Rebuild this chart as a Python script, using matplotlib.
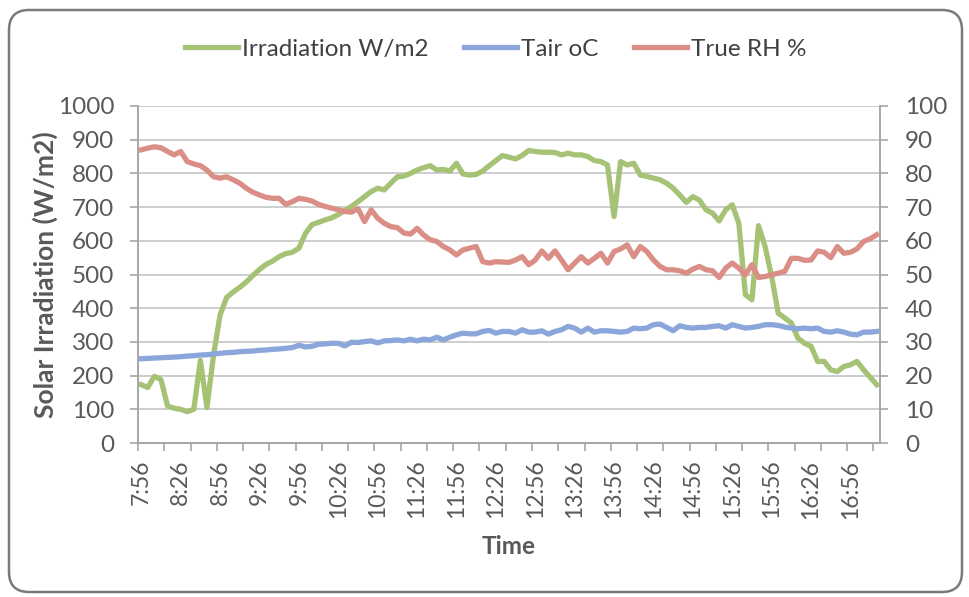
import matplotlib
matplotlib.use("Agg")
import matplotlib.pyplot as plt
import numpy as np
from matplotlib.patches import FancyBboxPatch

plt.rcParams['font.family'] = ['Lato', 'DejaVu Sans']

# readings every 5 minutes, 7:56 -> 17:16
irradiation = [
    173, 165, 198, 188, 110, 103, 100, 93, 100, 245,
    105, 260, 380, 432, 448, 462, 478, 497, 515, 530,
    540, 553, 562, 566, 578, 622, 648, 655, 662, 668,
    678, 690, 702, 716, 731, 746, 756, 751, 771, 790,
    792, 800, 810, 817, 823, 810, 812, 807, 830, 798,
    795, 797, 807, 823, 838, 853, 848, 843, 853, 868,
    865, 863, 863, 862, 855, 860, 855, 855, 850, 838,
    835, 825, 672, 835, 825, 830, 795, 791, 786, 781,
    771, 756, 736, 714, 731, 721, 692, 682, 659, 692,
    707, 652, 440, 425, 645, 583, 494, 385, 371, 356,
    311, 296, 287, 242, 242, 217, 212, 227, 232, 242,
    217, 195, 173,
]
tair = [
    25.0, 25.1, 25.2, 25.3, 25.4, 25.5, 25.6, 25.8, 25.9, 26.1,
    26.2, 26.4, 26.6, 26.8, 26.9, 27.1, 27.2, 27.3, 27.5, 27.6,
    27.8, 27.9, 28.1, 28.3, 29.0, 28.5, 28.7, 29.3, 29.4, 29.6,
    29.6, 28.8, 29.9, 29.8, 30.1, 30.3, 29.7, 30.3, 30.4, 30.6,
    30.3, 30.8, 30.3, 30.8, 30.6, 31.4, 30.6, 31.4, 32.1, 32.6,
    32.4, 32.4, 33.1, 33.4, 32.6, 33.1, 33.1, 32.6, 33.6, 32.9,
    32.9, 33.3, 32.3, 33.1, 33.6, 34.6, 34.1, 32.9, 34.1, 32.9,
    33.3, 33.3, 33.1, 32.9, 33.1, 34.1, 33.9, 34.1, 35.1, 35.3,
    34.3, 33.3, 34.8, 34.3, 34.1, 34.3, 34.3, 34.6, 34.8, 34.1,
    35.1, 34.6, 34.1, 34.3, 34.6, 35.1, 35.1, 34.9, 34.4, 34.1,
    33.9, 34.1, 33.9, 34.1, 33.1, 32.9, 33.3, 32.9, 32.3, 32.1,
    32.9, 32.9, 33.1,
]
rh = [
    87.0, 87.5, 87.9, 87.6, 86.5, 85.5, 86.5, 83.5, 82.8, 82.3,
    81.0, 79.0, 78.6, 79.0, 78.1, 77.1, 75.6, 74.4, 73.6, 72.9,
    72.6, 72.6, 70.8, 71.6, 72.6, 72.3, 71.8, 70.8, 70.2, 69.7,
    69.2, 68.7, 68.5, 69.5, 65.7, 69.2, 66.7, 65.2, 64.2, 63.9,
    62.3, 62.0, 63.7, 61.7, 60.3, 59.8, 58.3, 57.3, 55.8, 57.3,
    57.8, 58.3, 53.8, 53.4, 53.8, 53.7, 53.6, 54.3, 55.3, 52.9,
    54.3, 57.0, 54.8, 57.0, 54.3, 51.4, 53.4, 55.3, 53.4, 54.8,
    56.3, 53.4, 56.8, 57.6, 58.8, 55.3, 58.3, 56.8, 54.3, 52.4,
    51.4, 51.4, 51.1, 50.4, 51.6, 52.4, 51.4, 51.1, 49.1, 51.9,
    53.4, 51.9, 49.9, 52.9, 49.1, 49.4, 49.9, 50.4, 50.9, 54.8,
    54.8, 54.2, 54.3, 57.0, 56.6, 55.0, 58.3, 56.3, 56.6, 57.6,
    59.8, 60.6, 61.8,
]
time_labels = ['7:56', '8:26', '8:56', '9:26', '9:56', '10:26', '10:56',
               '11:26', '11:56', '12:26', '12:56', '13:26', '13:56',
               '14:26', '14:56', '15:26', '15:56', '16:26', '16:56']

green = '#A5C275'
blue = '#8AA6DA'
red = '#DA8E86'
txt = '#595959'
grid_c = '#C9C9C9'

fig = plt.figure(figsize=(9.7, 5.97), dpi=100)
fig.patch.set_facecolor('white')

# rounded chart border
border = FancyBboxPatch((9, 5), 953, 582, boxstyle="round,pad=0,rounding_size=20",
                        transform=None, facecolor='none', edgecolor='#7A7A7A', lw=1.8)
fig.patches.append(border)

ax = fig.add_axes([138/970, 154/597, 742/970, 337/597])
ax2 = ax.twinx()

x = np.arange(len(irradiation))
l1, = ax.plot(x, irradiation, color=green, lw=3.8, solid_joinstyle='round')
l2, = ax2.plot(x, tair, color=blue, lw=3.8, solid_joinstyle='round')
l3, = ax2.plot(x, rh, color=red, lw=3.8, solid_joinstyle='round')

ax.set_xlim(-0.5, len(irradiation) - 0.5)
ax.set_ylim(0, 1000)
ax2.set_ylim(0, 100)
ax.set_yticks(np.arange(0, 1001, 100))
ax2.set_yticks(np.arange(0, 101, 10))
ax.yaxis.grid(True, color=grid_c, lw=1.3)
ax.set_axisbelow(True)

ax.set_xticks(np.arange(0, len(irradiation), 6))
ax.set_xticklabels(time_labels, rotation=90)
ax.set_xticks(np.arange(-0.5, len(irradiation), 4), minor=True)
ax.tick_params(axis='x', which='major', length=0, pad=12, labelsize=16.5, labelcolor=txt)
ax.tick_params(axis='x', which='minor', length=6, width=1.2, color='#A6A6A6')
ax.tick_params(axis='y', length=6, width=1.2, color='#A6A6A6', pad=11,
               labelsize=17.5, labelcolor=txt)
ax2.tick_params(axis='y', length=6, width=1.2, color='#A6A6A6', pad=12,
                labelsize=17.5, labelcolor=txt)

for a in (ax, ax2):
    a.spines['top'].set_visible(False)
    for s in ('left', 'right', 'bottom'):
        a.spines[s].set_color('#A6A6A6')
        a.spines[s].set_linewidth(1.2)

ax.set_ylabel('Solar Irradiation (W/m2)', fontsize=19, fontweight='bold', color=txt)
ax.yaxis.set_label_coords(-0.108, 0.5)
ax.set_xlabel('Time', fontsize=17.5, fontweight='bold', color=txt, labelpad=12)

fig.legend([l1, l2, l3], ['Irradiation W/m2', 'Tair oC', 'True RH %'],
           loc='center', bbox_to_anchor=(0.511, 1 - 49/597), ncol=3, frameon=False,
           fontsize=17.5, handlelength=2.2, handletextpad=0.15, columnspacing=1.45,
           labelcolor='#404040')

fig.savefig('out.png', dpi=100)
